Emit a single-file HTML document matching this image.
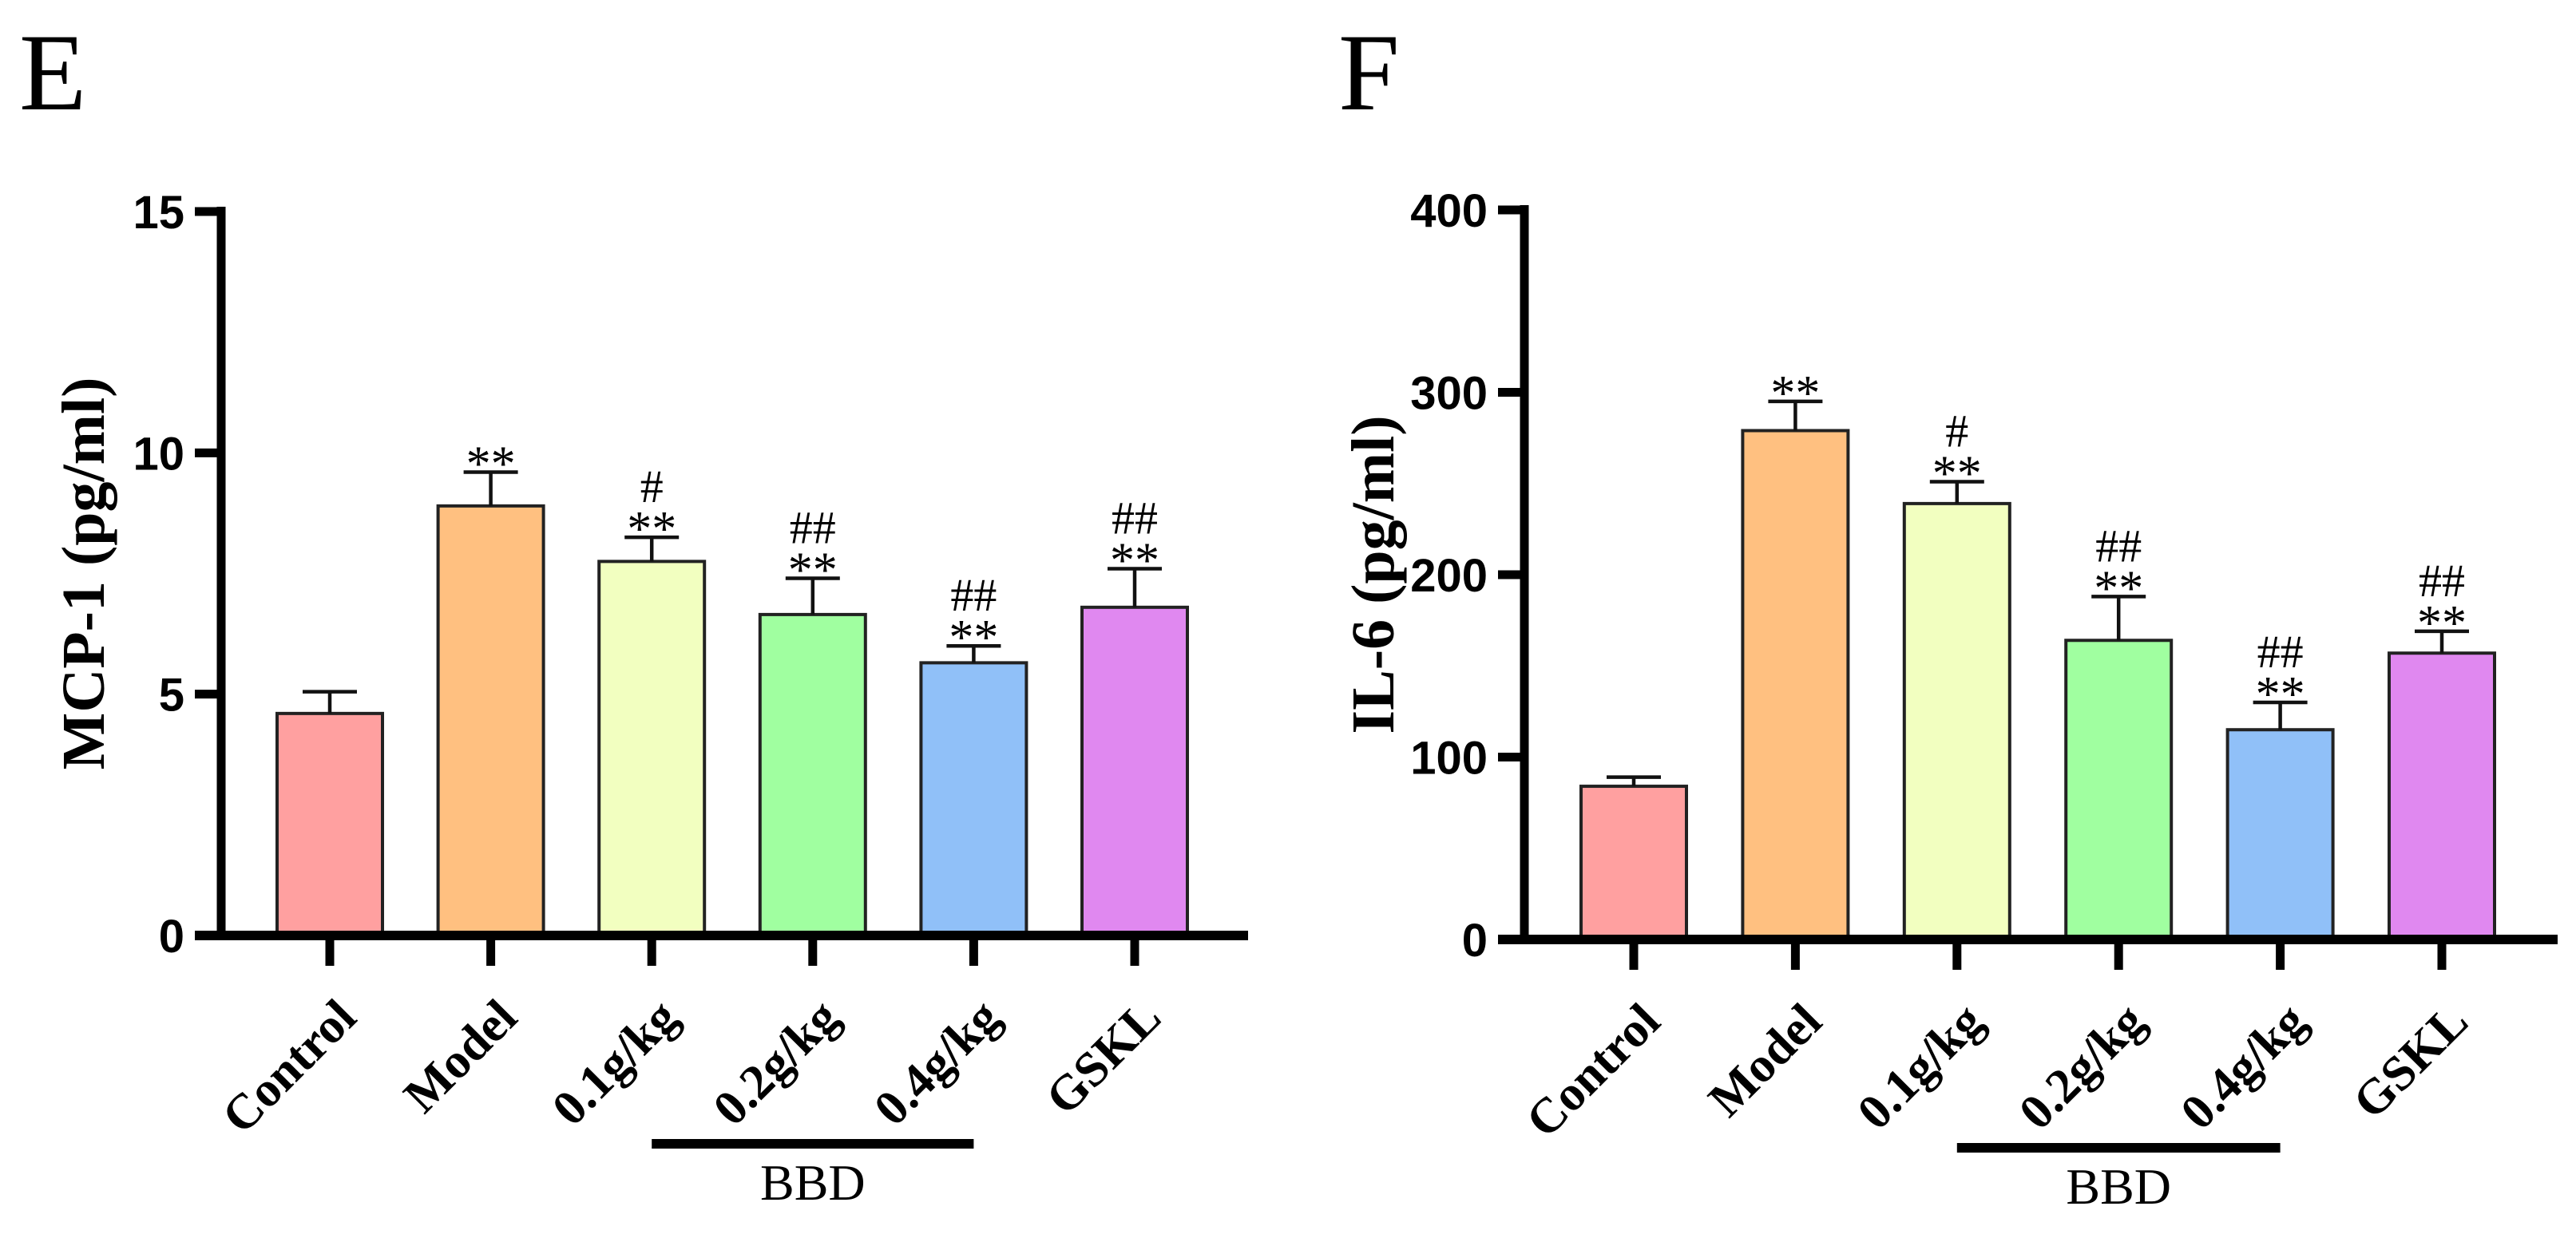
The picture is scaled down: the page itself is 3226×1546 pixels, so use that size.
<!DOCTYPE html>
<html><head><meta charset="utf-8"><style>
html,body{margin:0;padding:0;background:#fff;}
svg{display:block;}
</style></head><body>
<svg id="fig" width="3226" height="1546" viewBox="0 0 3226 1546" xmlns="http://www.w3.org/2000/svg">
<text x="24" y="137" font-family="Liberation Serif, serif" font-size="138">E</text>
<text x="1676" y="137" font-family="Liberation Serif, serif" font-size="138">F</text>
</svg>
<script>
const categories = ["Control","Model","0.1g/kg","0.2g/kg","0.4g/kg","GSKL"];
const colors = ["#FFA0A0","#FFC080","#F2FFC0","#A0FFA0","#90C0F8","#E088F0"];
const mcpValues = [4.6, 8.9, 7.75, 6.65, 5.65, 6.8];
const mcpErrors = [0.45, 0.7, 0.5, 0.75, 0.35, 0.8];
const mcpTicks = [0, 5, 10, 15];
const il6Values = [84, 279, 239, 164, 115, 157];
const il6Errors = [5, 16, 12, 24, 15, 12];
const il6Ticks = [0, 100, 200, 300, 400];
const starLabels = ["", "**", "**", "**", "**", "**"];
const hashLabels = ["", "", "#", "##", "##", "##"];

const NS = "http://www.w3.org/2000/svg";
const svg = document.getElementById("fig");
function mk(tag, attrs, parent, text){
  const e = document.createElementNS(NS, tag);
  for (const k in attrs) e.setAttribute(k, attrs[k]);
  if (text !== undefined) e.textContent = text;
  (parent || svg).appendChild(e);
  return e;
}

function drawChart(cfg){
  const g = mk("g", {});
  
  
  const ax = cfg.axisX, y0 = cfg.y0, yTop = cfg.yTop, maxV = cfg.ticks[cfg.ticks.length-1];
  const yS = v => y0 - (v / maxV) * (y0 - yTop);
  const xS = i => cfg.firstX + i * cfg.step;
  const bw = 132;

  cfg.values.forEach((v, i) => {
    const cx = xS(i);
    const r = mk("rect", {x: cx - bw/2, y: yS(v), width: bw, height: y0 - yS(v), fill: colors[i], stroke: "#222", "stroke-width": 4}, g);
    
    
    const top = yS(v + cfg.errors[i]);
    const eb = mk("path", {d: `M${cx} ${yS(v)} V${top} M${cx-34} ${top} H${cx+34}`, stroke: "#111", "stroke-width": 4.5, fill: "none"}, g);
    
    
    if (starLabels[i]) {
      const s = mk("text", {x: cx, y: top + 10, "text-anchor": "middle", "font-family": "Liberation Serif, serif", "font-size": 62}, g, starLabels[i]);
      
      
    }
    if (hashLabels[i]) {
      const h = mk("text", {x: cx, y: top - 44, "text-anchor": "middle", "font-family": "Liberation Serif, serif", "font-size": 58}, g, hashLabels[i]);
      
      
    }
    const t = mk("line", {x1: cx, x2: cx, y1: y0, y2: y0 + 38, stroke: "#000", "stroke-width": 11}, g);
    
    
    const lx = cx + 36, ly = y0 + 106;
    const lb = mk("text", {x: lx, y: ly, "text-anchor": "end", "font-family": "Liberation Serif, serif", "font-weight": "bold", "font-size": 62, transform: `rotate(-45 ${lx} ${ly})`}, g, categories[i]);
    
    
  });

  const ya = mk("line", {x1: ax, x2: ax, y1: yTop - 6, y2: y0 + 6, stroke: "#000", "stroke-width": 11}, g);
  
  
  const xa = mk("line", {x1: ax - 33, x2: cfg.axisEnd, y1: y0, y2: y0, stroke: "#000", "stroke-width": 12}, g);
  
  
  cfg.ticks.forEach(tv => {
    const yy = yS(tv);
    const tk = mk("line", {x1: ax - 33, x2: ax, y1: yy, y2: yy, stroke: "#000", "stroke-width": 11}, g);
    
    
    const tl = mk("text", {x: ax - 46, y: yy + 21, "text-anchor": "end", "font-family": "Liberation Sans, sans-serif", "font-weight": "bold", "font-size": 58}, g, String(tv));
    
    
  });

  const tx = cfg.titleX, ty = (y0 + yTop) / 2;
  const tt = mk("text", {x: tx, y: ty, "text-anchor": "middle", "font-family": "Liberation Serif, serif", "font-weight": "bold", "font-size": 76, transform: `rotate(-90 ${tx} ${ty})`}, g, cfg.title);
  
  

  const bx1 = xS(2), bx2 = xS(4);
  const bl = mk("line", {x1: bx1, x2: bx2, y1: cfg.bbdY, y2: cfg.bbdY, stroke: "#000", "stroke-width": 12}, g);
  
  
  const bt = mk("text", {x: (bx1 + bx2) / 2, y: cfg.bbdY + 70, "text-anchor": "middle", "font-family": "Liberation Serif, serif", "font-size": 64}, g, "BBD");
  
  
}

drawChart({name: "mcp1-chart", values: mcpValues, errors: mcpErrors, ticks: mcpTicks,
  axisX: 277, y0: 1172, yTop: 265, firstX: 413, step: 201.6, axisEnd: 1563,
  title: "MCP-1 (pg/ml)", titleX: 130, bbdY: 1433});
drawChart({name: "il6-chart", values: il6Values, errors: il6Errors, ticks: il6Ticks,
  axisX: 1909, y0: 1177, yTop: 263, firstX: 2046, step: 202.4, axisEnd: 3203,
  title: "IL-6 (pg/ml)", titleX: 1745, bbdY: 1438});
</script>
</body></html>
